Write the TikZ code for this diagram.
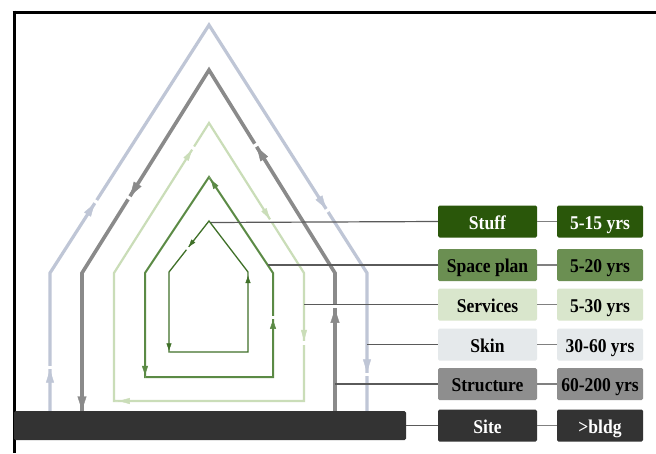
\documentclass[tikz,border=0pt]{standalone}
\usepackage{fontspec}
\usepackage{graphicx}
\setmainfont{Liberation Serif}
\usetikzlibrary{arrows.meta,decorations.markings}
\definecolor{skinC}{HTML}{BFC6D6}
\definecolor{strC}{HTML}{8A8A8A}
\definecolor{servC}{HTML}{CADDB8}
\definecolor{spaceC}{HTML}{5B8A45}
\definecolor{stuffC}{HTML}{3F7028}
\definecolor{conC}{HTML}{5A5A5A}
\definecolor{bStuff}{HTML}{2A570A}
\definecolor{bSpace}{HTML}{6B8F52}
\definecolor{bServ}{HTML}{D9E6CC}
\definecolor{bSkin}{HTML}{E5E9EB}
\definecolor{bStr}{HTML}{8E8E8E}
\definecolor{bSite}{HTML}{333333}
% #1 tip, #2 from, #3 to, #4 position, #5 half height of the gap after the tip
\newcommand\arrowon[5]{\path[decoration={markings,mark=at position #4 with {\fill[white] (0.6pt,-#5) rectangle (4pt,#5); \arrow{#1}}},decorate] #2 -- #3;}
\newcommand\nt[1]{\scalebox{0.9}[1]{#1}}
\tikzset{
  box/.style={rounded corners=1.5pt, minimum width=99pt, minimum height=32pt, inner sep=0pt,
    text height=15pt, text depth=0pt,
    font=\fontsize{19.5}{20}\selectfont\bfseries, text=black},
  ybox/.style={box, minimum width=86pt},
  skinL/.style={draw=skinC, line width=3.2pt, line join=miter},
  strL/.style={draw=strC, line width=3.6pt, line join=miter},
  servL/.style={draw=servC, line width=2.2pt, line join=miter},
  spaceL/.style={draw=spaceC, line width=2pt, line join=miter},
  stuffL/.style={draw=stuffC, line width=1.3pt, line join=miter},
  con/.style={draw=conC, line width=1.2pt},
  lnk/.style={draw=gray, line width=1.2pt},
}
\begin{document}
\begin{tikzpicture}[x=1pt,y=-1pt]
\useasboundingbox (0,0) rectangle (656,453);
\fill[white] (0,0) rectangle (656,453);
% frame
\draw[line width=3pt] (12.5,12) -- (656,12);
\draw[line width=3pt] (14,10.5) -- (14,453);
% skin
\coordinate (k1) at (50,411); \coordinate (k2) at (50,273); \coordinate (k3) at (209,25);
\coordinate (k4) at (367,273); \coordinate (k5) at (367,411);
\draw[skinL] (k1) -- (k2) -- (k3) -- (k4) -- (k5);
\arrowon{Triangle[length=13pt,width=8pt,color=skinC]}{(k1)}{(k2)}{0.3}{3pt}
\arrowon{Triangle[length=13pt,width=8pt,color=skinC]}{(k2)}{(k3)}{0.28}{3pt}
\arrowon{Triangle[length=13pt,width=8pt,color=skinC]}{(k3)}{(k4)}{0.74}{3pt}
\arrowon{Triangle[length=13pt,width=8pt,color=skinC]}{(k4)}{(k5)}{0.72}{3pt}
% structure
\coordinate (t1) at (335,411); \coordinate (t2) at (335,273); \coordinate (t3) at (209,70);
\coordinate (t4) at (82,273); \coordinate (t5) at (82,411);
\draw[strL] (t1) -- (t2) -- (t3) -- (t4) -- (t5);
\arrowon{Triangle[length=14pt,width=9pt,color=strC]}{(t1)}{(t2)}{0.74}{3pt}
\arrowon{Triangle[length=14pt,width=9pt,color=strC]}{(t2)}{(t3)}{0.62}{3pt}
\arrowon{Triangle[length=14pt,width=9pt,color=strC]}{(t3)}{(t4)}{0.62}{3pt}
\arrowon{Triangle[length=14pt,width=9pt,color=strC]}{(t4)}{(t5)}{0.995}{0pt}
% services
\coordinate (v1) at (209,123); \coordinate (v2) at (304,273); \coordinate (v3) at (304,401);
\coordinate (v4) at (114,401); \coordinate (v5) at (114,273);
\draw[servL] (v1) -- (v2) -- (v3) -- (v4) -- (v5) -- cycle;
\arrowon{Triangle[length=11pt,width=6pt,color=servC]}{(v5)}{(v1)}{0.82}{2.5pt}
\arrowon{Triangle[length=11pt,width=6pt,color=servC]}{(v1)}{(v2)}{0.64}{2.5pt}
\arrowon{Triangle[length=11pt,width=6pt,color=servC]}{(v2)}{(v3)}{0.53}{2.5pt}
\arrowon{Triangle[length=11pt,width=6pt,color=servC]}{(v3)}{(v4)}{0.975}{0pt}
% space plan
\coordinate (p1) at (209,177); \coordinate (p2) at (145,273); \coordinate (p3) at (145,377);
\coordinate (p4) at (273,377); \coordinate (p5) at (273,273);
\draw[spaceL] (p1) -- (p2) -- (p3) -- (p4) -- (p5) -- cycle;
\arrowon{Triangle[length=9pt,width=6pt,color=spaceC]}{(p5)}{(p1)}{0.97}{0pt}
\arrowon{Triangle[length=9pt,width=6pt,color=spaceC]}{(p4)}{(p5)}{0.55}{2pt}
\arrowon{Triangle[length=9pt,width=6pt,color=spaceC]}{(p2)}{(p3)}{0.98}{0pt}
% stuff
\coordinate (s1) at (209,221); \coordinate (s2) at (169,272); \coordinate (s3) at (169,352);
\coordinate (s4) at (248,352); \coordinate (s5) at (248,272);
\draw[stuffL] (s1) -- (s2) -- (s3) -- (s4) -- (s5) -- cycle;
\arrowon{Triangle[length=7pt,width=5pt,color=stuffC]}{(s1)}{(s2)}{0.5}{1.5pt}
\arrowon{Triangle[length=7pt,width=5pt,color=stuffC]}{(s2)}{(s3)}{0.98}{0pt}
\arrowon{Triangle[length=7pt,width=5pt,color=stuffC]}{(s4)}{(s5)}{0.95}{0pt}
% site bar
\fill[bSite, rounded corners=1.5pt] (14,411) rectangle (406,440);
\coordinate (siteend) at (406,425.5);
% boxes
\node[box, fill=bStuff, text=white] (nStuff) at (487.5,221.5) {\nt{Stuff}};
\node[box, fill=bSpace] (nSpace) at (487.5,265) {\nt{Space plan}};
\node[box, fill=bServ] (nServ) at (487.5,304.5) {\nt{Services}};
\node[box, fill=bSkin] (nSkin) at (487.5,344.5) {\nt{Skin}};
\node[box, fill=bStr] (nStr) at (487.5,384) {\nt{Structure}};
\node[box, fill=bSite, text=white] (nSite) at (487.5,425.5) {\nt{Site}};
\node[ybox, fill=bStuff, text=white] (yStuff) at (600,221.5) {\nt{5-15 yrs}};
\node[ybox, fill=bSpace] (ySpace) at (600,265) {\nt{5-20 yrs}};
\node[ybox, fill=bServ] (yServ) at (600,304.5) {\nt{5-30 yrs}};
\node[ybox, fill=bSkin] (ySkin) at (600,344.5) {\nt{30-60 yrs}};
\node[ybox, fill=bStr] (yStr) at (600,384) {\nt{60-200 yrs}};
\node[ybox, fill=bSite, text=white] (ySite) at (600,425.5) {\nt{>bldg}};
% connectors
\coordinate (cStuff) at (211,222.5);
\coordinate (cSpace) at (268,265);
\coordinate (cServ) at (304,304.5);
\coordinate (cSkin) at (367,344.5);
\coordinate (cStr) at (335,384);
\draw[con] (cStuff) -- (nStuff.west);
\draw[con] (cSpace) -- (nSpace.west);
\draw[con] (cServ) -- (nServ.west);
\draw[con] (cSkin) -- (nSkin.west);
\draw[con] (cStr) -- (nStr.west);
\draw[con] (siteend) -- (nSite.west);
\foreach \n in {Stuff,Space,Serv,Skin,Str,Site}{
  \draw[lnk] (n\n.east) -- (y\n.west);
}
\end{tikzpicture}
\end{document}
